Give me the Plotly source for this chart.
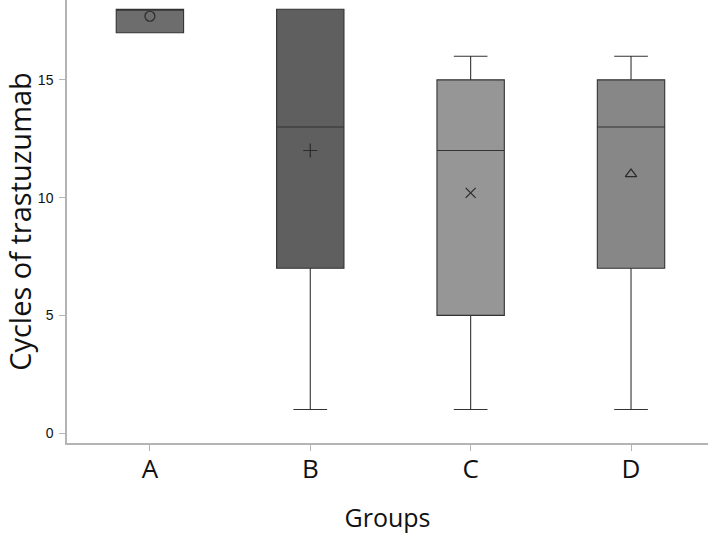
import plotly.graph_objects as go

groups = ['A', 'B', 'C', 'D']
q1 = [17, 7, 5, 7]
median = [18, 13, 12, 13]
q3 = [18, 18, 15, 15]
lower = [17, 1, 1, 1]
upper = [18, 18, 16, 16]
means = [17.7, 12.0, 10.2, 11.0]

fills = ['#6d6d6d', '#5f5f5f', '#969696', '#878787']
mean_symbols = ['circle-open', 'cross-thin-open', 'x-thin-open', 'triangle-up-open']

fig = go.Figure()

for i, g in enumerate(groups):
    fig.add_trace(go.Box(
        x=[g], q1=[q1[i]], median=[median[i]], q3=[q3[i]],
        lowerfence=[lower[i]], upperfence=[upper[i]],
        fillcolor=fills[i], line=dict(color='#333333', width=1.1),
        width=0.42, whiskerwidth=0.5, boxpoints=False,
        showlegend=False, hoverinfo='skip',
    ))

# means drawn as open symbols
fig.add_trace(go.Scatter(
    x=groups, y=means, mode='markers', showlegend=False,
    marker=dict(symbol=mean_symbols, size=10, color='#2a2a2a',
                line=dict(color='#2a2a2a', width=1.2)),
))

fig.update_xaxes(
    type='category', range=[-0.517, 3.48],
    showline=True, linecolor='#b4b4b4', linewidth=1.5,
    ticks='outside', ticklen=6, tickcolor='#b4b4b4', ticklabelstandoff=-4,
    tickfont=dict(family='Open Sans', size=26, color='#111111'),
    title=dict(text='Groups', font=dict(family='Open Sans', size=25, color='#111111'), standoff=28),
    showgrid=False, zeroline=False,
)
fig.update_yaxes(
    range=[-0.42, 18.39], tickvals=[0, 5, 10, 15],
    showline=True, linecolor='#b4b4b4', linewidth=1.5,
    ticks='outside', ticklen=6, tickcolor='#b4b4b4', ticklabelstandoff=3,
    tickfont=dict(family='Liberation Sans', size=14, color='#111111'),
    title=dict(text='Cycles of trastuzumab', font=dict(family='Open Sans', size=29, color='#111111'), standoff=4),
    showgrid=False, zeroline=False,
)
fig.update_layout(
    width=708, height=534,
    margin=dict(l=67, r=0, t=0, b=91),
    paper_bgcolor='white', plot_bgcolor='white',
)

fig.write_html('out.html', config={'displayModeBar': False},
               post_script="document.body.style.margin='0px';")
